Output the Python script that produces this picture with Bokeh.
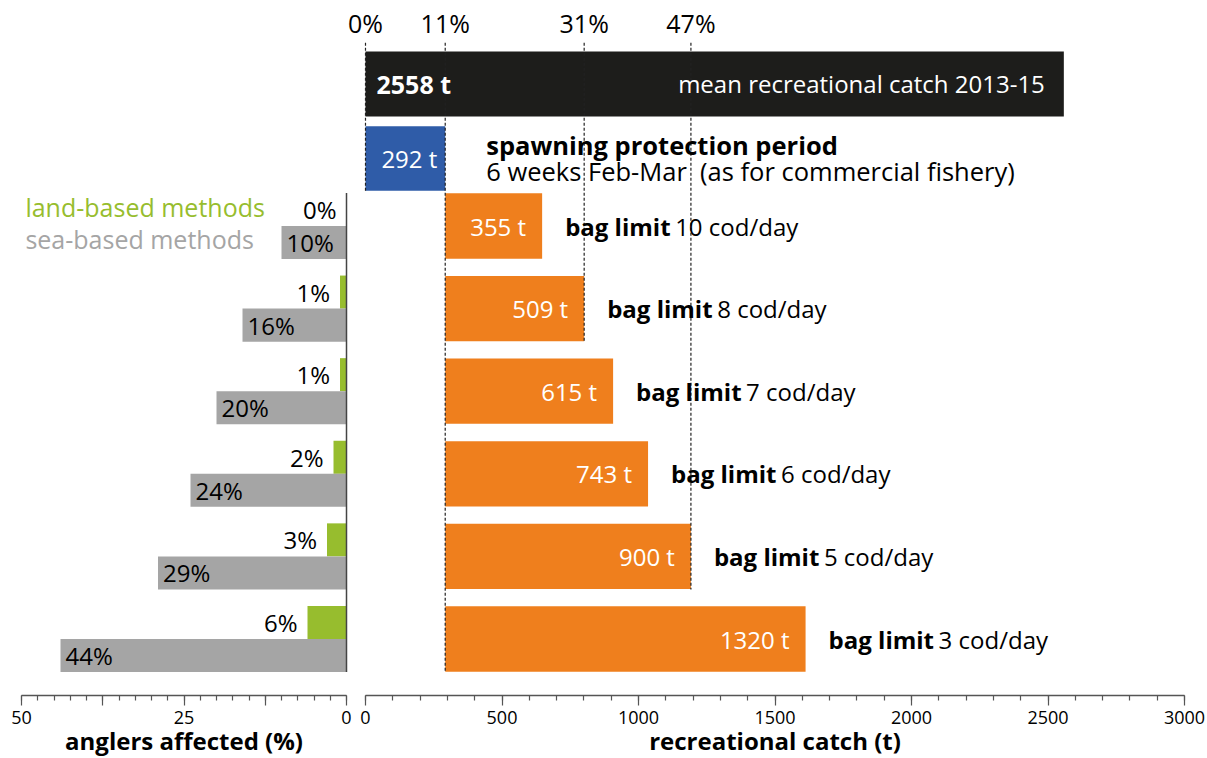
from bokeh.plotting import figure
from bokeh.models import (Range1d, FixedTicker, SingleIntervalTicker, CustomJSTickFormatter,
                          LinearAxis)
from bokeh.core.properties import value
from bokeh.embed import file_html
from bokeh.resources import INLINE

# ---------------- data ----------------
bag_limits = ["10", "8", "7", "6", "5", "3"]
catch_reduction = [355, 509, 615, 743, 900, 1320]      # t, per bag limit
land_based = [0, 1, 1, 2, 3, 6]                         # % anglers affected
sea_based = [10, 16, 20, 24, 29, 44]                    # % anglers affected
mean_catch = 2558                                       # t, mean 2013-15
spawning_catch = 292                                    # t, spawning protection
marker_labels = ["0%", "11%", "31%", "47%"]

# ---------------- styles / layout ----------------
FONT = value("Open Sans")
BLACK = "#1d1d1b"
BLUE = "#2f5ca8"
ORANGE = "#ef7f1d"
GREEN = "#97bd2e"
GRAY = "#a5a5a5"
AXIS = "#555555"

W, H = 1207, 758
# catch scale: 0 t at 365 px, 3000 t at 1184 px
c_px = (1184 - 365) / 3000
X_RANGE = (-365 / c_px, 3000 + (W - 1184) / c_px)
# percent scale (reversed): 50 % at 21 px, 0 % at 346 px
p_px = (346 - 21) / 50
PCT_RANGE = (50 + 21 / p_px, -(W - 346) / p_px)
# rows: row i centred at 225.5 + 82.6 * i px
row_px = 82.6
Y_RANGE = ((H - 225.5) / row_px, -225.5 / row_px)
AXIS_Y = (695 - 225.5) / row_px

rows_y = list(range(len(bag_limits)))
mean_row = -1.72
spawn_row = -0.817

p = figure(width=W, height=H, x_range=Range1d(*X_RANGE), y_range=Range1d(*Y_RANGE),
           x_axis_location=None, y_axis_location=None, output_backend="svg",
           toolbar_location=None, min_border=0)
p.extra_x_ranges = {"pct": Range1d(*PCT_RANGE)}
p.grid.visible = False
p.outline_line_color = None


def style_axis(ax):
    ax.axis_line_color = AXIS
    ax.axis_line_width = 1.5
    ax.major_tick_line_color = AXIS
    ax.minor_tick_line_color = AXIS
    ax.major_tick_line_width = 1.2
    ax.minor_tick_line_width = 1.2
    ax.major_tick_in = 0
    ax.major_tick_out = 10
    ax.minor_tick_in = 0
    ax.minor_tick_out = 5
    ax.major_label_standoff = 5
    ax.major_label_text_font = "Open Sans"
    ax.major_label_text_font_size = "18px"
    ax.major_label_text_color = "black"
    ax.axis_label_standoff = -3
    ax.axis_label_text_font = "Open Sans"
    ax.axis_label_text_font_style = "bold"
    ax.axis_label_text_font_size = "24px"
    ax.axis_label_text_color = "black"


# ---------------- left panel: anglers affected ----------------
p.hbar(y=[r - 0.2 for r in rows_y], left=0, right=land_based, height=0.4,
       fill_color=GREEN, line_color=None, x_range_name="pct")
p.hbar(y=[r + 0.2 for r in rows_y], left=0, right=sea_based, height=0.4,
       fill_color=GRAY, line_color=None, x_range_name="pct")
p.segment(x0=[0], y0=[rows_y[0] - 0.4], x1=[0], y1=[rows_y[-1] + 0.4],
          line_color="#444444", line_width=1.5, x_range_name="pct")

p.text(x=land_based, y=[r - 0.2 for r in rows_y], text=[f"{v}%" for v in land_based],
       text_align="right", text_baseline="middle", x_offset=-10, x_range_name="pct",
       text_font=FONT, text_font_size="24px", text_color="black")
p.text(x=sea_based, y=[r + 0.2 for r in rows_y], text=[f"{v}%" for v in sea_based],
       text_align="left", text_baseline="middle", x_offset=5, x_range_name="pct",
       text_font=FONT, text_font_size="24px", text_color="black")

p.text(x=[49.4], y=[-0.224], text=["land-based methods"], text_align="left", x_range_name="pct",
       text_baseline="middle", text_font=FONT, text_font_size="25px", text_color=GREEN)
p.text(x=[49.4], y=[0.163], text=["sea-based methods"], text_align="left", x_range_name="pct",
       text_baseline="middle", text_font=FONT, text_font_size="25px", text_color=GRAY)

ax_pct = LinearAxis(x_range_name="pct", bounds=(0, 50), fixed_location=AXIS_Y,
                    axis_label="anglers affected (%)",
                    ticker=FixedTicker(ticks=[0, 12.5, 25, 37.5, 50],
                                       minor_ticks=[i * 2.5 for i in range(21)]),
                    formatter=CustomJSTickFormatter(
                        code="return (tick % 25 === 0) ? String(tick) : '';"))
style_axis(ax_pct)
p.add_layout(ax_pct, "below")

# ---------------- right panel: recreational catch ----------------
ends = [spawning_catch + c for c in catch_reduction]

p.hbar(y=[mean_row], left=0, right=[mean_catch], height=0.787, fill_color=BLACK, line_color=None)
p.hbar(y=[spawn_row], left=0, right=[spawning_catch], height=0.78, fill_color=BLUE, line_color=None)
p.hbar(y=rows_y, left=spawning_catch, right=ends, height=0.79, fill_color=ORANGE, line_color=None)

marker_x = [0, spawning_catch, ends[1], ends[4]]
marker_bottom = [spawn_row + 0.39, rows_y[-1] + 0.4, rows_y[1] + 0.4, rows_y[4] + 0.4]
p.segment(x0=marker_x, y0=[-2.22] * 4, x1=marker_x, y1=marker_bottom,
          line_color="#222222", line_width=1.2, line_dash="3 2")
p.text(x=marker_x, y=[-2.46] * 4, text=marker_labels, text_align="center",
       text_baseline="middle", text_font=FONT, text_font_size="25px", text_color="black")

p.text(x=[0], y=[mean_row], text=[f"{mean_catch} t"], x_offset=11, text_align="left",
       text_baseline="middle", text_font=FONT, text_font_style="bold",
       text_font_size="25px", text_color="white")
p.text(x=[mean_catch], y=[mean_row], text=["mean recreational catch 2013-15"], x_offset=-19,
       text_align="right", text_baseline="middle", text_font=FONT,
       text_font_size="24px", text_color="white")

p.text(x=[spawning_catch / 2], y=[spawn_row], text=[f"{spawning_catch} t"], x_offset=4,
       text_align="center", text_baseline="middle", text_font=FONT,
       text_font_size="24px", text_color="white")
p.text(x=[spawning_catch], y=[-0.975], text=["spawning protection period"], x_offset=41,
       text_align="left", text_baseline="middle", text_font=FONT, text_font_style="bold",
       text_font_size="25.5px", text_color="black")
p.text(x=[spawning_catch], y=[-0.66], text=["6 weeks Feb-Mar\u00a0 (as for commercial fishery)"],
       x_offset=41, text_align="left", text_baseline="middle", text_font=FONT,
       text_font_size="25.5px", text_color="black")

p.text(x=ends, y=rows_y, text=[f"{c} t" for c in catch_reduction], x_offset=-16,
       text_align="right", text_baseline="middle", text_font=FONT,
       text_font_size="24px", text_color="white")
p.text(x=ends, y=rows_y, text=["bag limit"] * len(ends), x_offset=23,
       text_align="left", text_baseline="middle", text_font=FONT, text_font_style="bold",
       text_font_size="24px", text_color="black")
p.text(x=ends, y=rows_y, text=[f"{b} cod/day" for b in bag_limits], x_offset=23 + 110,
       text_align="left", text_baseline="middle", text_font=FONT,
       text_font_size="24px", text_color="black")

ax_catch = LinearAxis(bounds=(0, 3000), fixed_location=AXIS_Y, axis_label="recreational catch (t)",
                      ticker=SingleIntervalTicker(interval=500, num_minor_ticks=5))
style_axis(ax_catch)
p.add_layout(ax_catch, "below")

open("out.html", "w").write(file_html(p, INLINE))
